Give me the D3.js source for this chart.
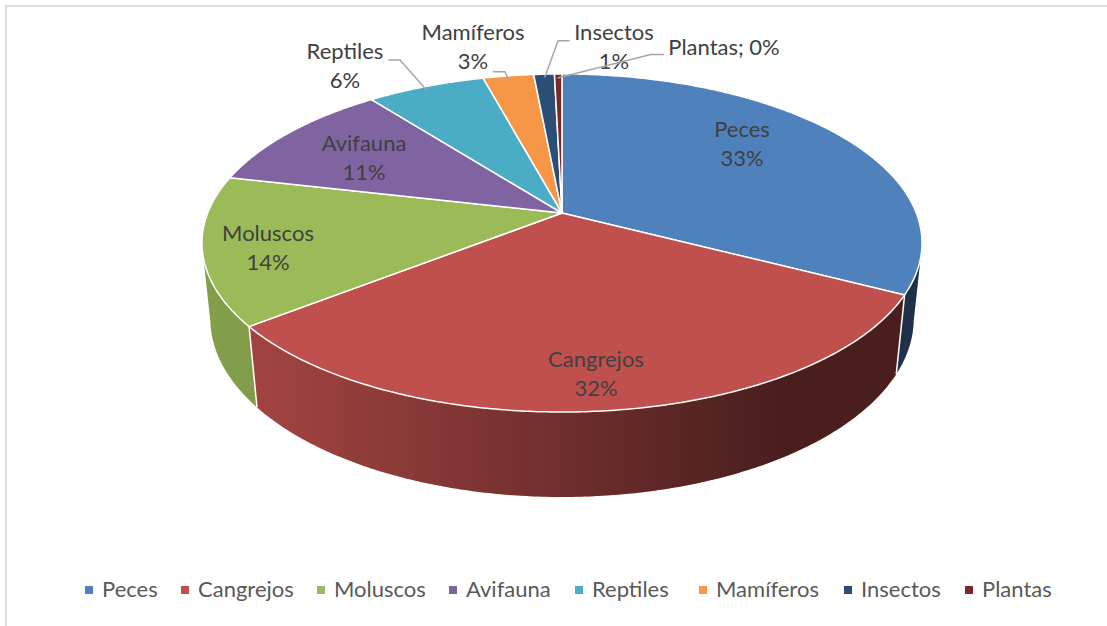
<!DOCTYPE html>
<html lang="es">
<head>
<meta charset="UTF-8">
<title>Pie 3D</title>
<script src="https://d3js.org/d3.v7.min.js"></script>
<style>
  html, body { margin: 0; padding: 0; background: #fff; }
  text { font-family: Lato, "Open Sans", sans-serif; }
</style>
</head>
<body>
<script>
// data
var categories = ["Peces", "Cangrejos", "Moluscos", "Avifauna", "Reptiles", "Mamíferos", "Insectos", "Plantas"];
var shares = [32.6, 31.8, 14.2, 10.9, 6.3, 2.7, 1.1, 0.4];
var colors = ["#4f81bd", "#c0504d", "#9bbb59", "#8064a2", "#4bacc6", "#f79646", "#2c4d75", "#772c2a"];

var w = 1107, h = 626;
var svg = d3.select("body").append("svg").attr("width", w).attr("height", h).style("display", "block");

// perspective of the disc: apex of the pie and how the rim is foreshortened
var x0 = 562, y0 = 213, bx = 354.3, ay = 163.7, tilt = 0.1775, depthY = 76.4, depthS = 0.023;

function project(angle, z) {
  var u = Math.sin(angle), v = -Math.cos(angle);
  var d = 1 - tilt * v + depthS * z;
  return [x0 + bx * u / d, y0 + (ay * v + depthY * z) / d];
}

var pie = d3.pie().sort(null).value(function(d) { return d; });
var arcs = pie(shares);
var line = d3.line();

function rim(a, b, z) {
  var n = Math.max(2, Math.ceil((b - a) / 0.01));
  return d3.range(n + 1).map(function(i) { return project(a + (b - a) * i / n, z); });
}

// frame of the picture
svg.append("rect").attr("x", 6).attr("y", 6).attr("width", w + 20).attr("height", h)
  .attr("fill", "none").attr("stroke", "#dcdcdc").attr("stroke-width", 2);

// side shading runs left to right
var defs = svg.append("defs");
var sideGrad = defs.append("linearGradient").attr("id", "side")
  .attr("gradientUnits", "userSpaceOnUse").attr("x1", 205).attr("x2", 920).attr("y1", 0).attr("y2", 0);
sideGrad.append("stop").attr("offset", 0).attr("stop-color", "#000").attr("stop-opacity", 0.15);
sideGrad.append("stop").attr("offset", 0.12).attr("stop-color", "#000").attr("stop-opacity", 0.18);
sideGrad.append("stop").attr("offset", 0.5).attr("stop-color", "#000").attr("stop-opacity", 0.42);
sideGrad.append("stop").attr("offset", 0.8).attr("stop-color", "#000").attr("stop-opacity", 0.62);
sideGrad.append("stop").attr("offset", 1).attr("stop-color", "#000").attr("stop-opacity", 0.62);

// walls, only the part of each slice that faces the viewer
var frontA = Math.PI * 0.56, frontB = Math.PI * 1.44;
var walls = arcs.filter(function(d) { return d.endAngle > frontA && d.startAngle < frontB; });
walls.forEach(function(d) {
  var a = Math.max(d.startAngle, frontA), b = Math.min(d.endAngle, frontB);
  var pts = rim(a, b, 0).concat(rim(a, b, 1).reverse());
  var p = line(pts) + "Z";
  svg.append("path").attr("d", p).attr("fill", colors[d.index]);
  svg.append("path").attr("d", p).attr("fill", "url(#side)");
});
// white seams where two walls meet
walls.slice(1).forEach(function(d) {
  svg.append("path").attr("d", line([project(d.startAngle, 0), project(d.startAngle, 1)]))
    .attr("stroke", "#fff").attr("stroke-width", 1.5).attr("fill", "none");
});

// top of the disc
svg.selectAll("path.slice").data(arcs).enter().append("path")
  .attr("class", "slice")
  .attr("d", function(d) {
    return line([[x0, y0]].concat(rim(d.startAngle, d.endAngle, 0))) + "Z";
  })
  .attr("fill", function(d) { return colors[d.index]; })
  .attr("stroke", "#fff").attr("stroke-width", 1.5).attr("stroke-linejoin", "round");

// data labels
var labelPos = [
  { x: 742, y: 131, dy: 29 },
  { x: 596, y: 361, dy: 29 },
  { x: 268, y: 235, dy: 29 },
  { x: 364, y: 145, dy: 29 },
  { x: 345, y: 53, dy: 29 },
  { x: 473, y: 34, dy: 29 },
  { x: 614, y: 34, dy: 29 },
  { x: 724, y: 49, dy: 0 }
];
var pct = function(v) { return Math.round(v) + "%"; };
var labels = svg.selectAll("g.lab").data(arcs).enter().append("g").attr("class", "lab");
labels.each(function(d) {
  var g = d3.select(this), p = labelPos[d.index];
  if (p.dy === 0) {
    g.append("text").attr("x", p.x).attr("y", p.y).text(categories[d.index] + "; " + pct(d.value));
  } else {
    g.append("text").attr("x", p.x).attr("y", p.y).text(categories[d.index]);
    g.append("text").attr("x", p.x).attr("y", p.y + p.dy).text(pct(d.value));
  }
});
labels.selectAll("text").attr("text-anchor", "middle").attr("dominant-baseline", "middle")
  .attr("font-size", 22).attr("fill", "#404040");

// leader lines of the outside labels
var leaders = [
  [[388.6, 60], [400, 60], [426.5, 90]],
  [[492.8, 71.7], [504.8, 71.7], [509, 80]],
  [[569.7, 40.7], [558, 40.7], [544.8, 77.6]],
  [[663.8, 54.5], [650.7, 54.5], [557.6, 78]]
];
svg.selectAll("path.leader").data(leaders).enter().append("path")
  .attr("class", "leader").attr("d", line)
  .attr("fill", "none").attr("stroke", "#a6a6a6").attr("stroke-width", 1.5);

// legend
var legendTextX = [102, 198, 334, 466, 592, 716, 861, 982];
categories.forEach(function(c, i) {
  svg.append("rect").attr("x", legendTextX[i] - 17).attr("y", 586).attr("width", 8).attr("height", 8).attr("fill", colors[i]);
  svg.append("text").attr("x", legendTextX[i]).attr("y", 591)
    .attr("dominant-baseline", "middle").attr("font-size", 22).attr("fill", "#595959").text(c);
});
</script>
</body>
</html>
